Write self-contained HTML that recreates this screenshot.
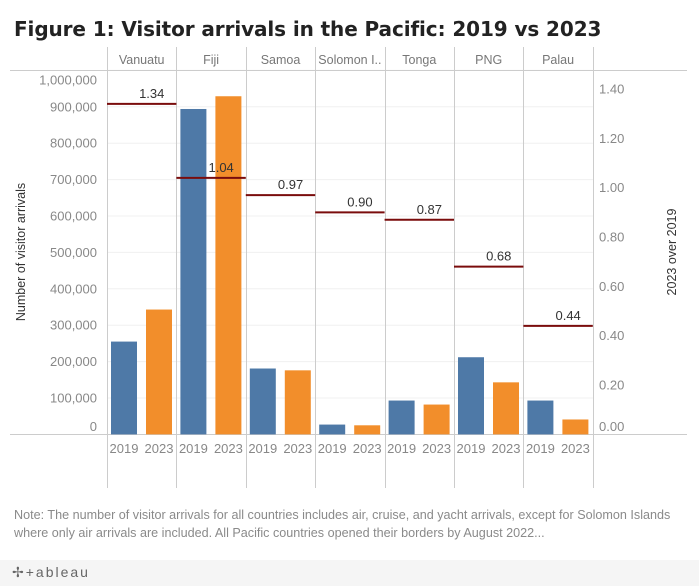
<!DOCTYPE html>
<html><head><meta charset="utf-8"><style>
body{margin:0;width:699px;height:586px;background:#fff;font-family:"Liberation Sans","DejaVu Sans",sans-serif;overflow:hidden;position:relative}
</style></head><body>
<div style="position:absolute;left:14px;top:17px;font-size:20px;font-weight:bold;color:#222;font-family:'DejaVu Sans',sans-serif;letter-spacing:-0.1px">Figure 1: Visitor arrivals in the Pacific: 2019 vs 2023</div>
<svg id="c" width="699" height="560" style="position:absolute;left:0;top:0"></svg>
<div style="position:absolute;left:14px;top:506px;width:690px;font-size:12.6px;line-height:18px;color:#8a8a8a;font-family:'Liberation Sans',sans-serif">Note: The number of visitor arrivals for all countries includes air, cruise, and yacht arrivals, except for Solomon Islands where only air arrivals are included. All Pacific countries opened their borders by August 2022...</div>
<div style="position:absolute;left:0;top:560px;width:699px;height:26px;background:#f5f5f5">
<span style="position:absolute;left:12px;top:4px;font-size:14px;color:#666;letter-spacing:2px">✢+ableau</span></div>
<script>
const countries=["Vanuatu","Fiji","Samoa","Solomon I..","Tonga","PNG","Palau"];
const v2019=[255000,894000,181000,27000,93000,212000,93000];
const v2023=[343000,929000,176000,25000,82000,143000,41000];
const ratio=[1.34,1.04,0.97,0.90,0.87,0.68,0.44];
const leftTicks=[0,100000,200000,300000,400000,500000,600000,700000,800000,900000,1000000];
const rightTicks=[0,0.2,0.4,0.6,0.8,1.0,1.2,1.4];
const NS="http://www.w3.org/2000/svg",svg=document.getElementById('c');
function el(t,a,txt){const e=document.createElementNS(NS,t);for(const k in a)e.setAttribute(k,a[k]);if(txt!==undefined)e.textContent=txt;svg.appendChild(e);return e;}
const x0=107,pw=69.4,base=434.4;
const yL=v=>base-v*0.000364;
const yR=v=>base-v*246.7;
const fnt="Liberation Sans, sans-serif";
leftTicks.forEach(t=>{if(t>0){const g=el('line',{x1:x0,x2:x0+7*pw,y1:yL(t),y2:yL(t),stroke:'#f0f0f0'});}});
leftTicks.forEach(t=>{let y=yL(t);if(y>base-8)y=base-8;if(y<80)y=80;const e=el('text',{x:97,y:y+4.5,'text-anchor':'end','font-size':13,fill:'#888','font-family':fnt},t.toLocaleString('en-US'));});
rightTicks.forEach(t=>{const y=t==0?yL(0)-8:yR(t);const e=el('text',{x:599,y:y+4.5,'font-size':13,fill:'#888','font-family':fnt},t.toFixed(2));});
let a=el('text',{x:0,y:0,transform:'translate(25,252) rotate(-90)','text-anchor':'middle','font-size':12.5,fill:'#333','font-family':fnt},'Number of visitor arrivals');

a=el('text',{x:0,y:0,transform:'translate(676,252) rotate(-90)','text-anchor':'middle','font-size':12.5,fill:'#333','font-family':fnt},'2023 over 2019');

el('line',{x1:10,x2:687,y1:70.5,y2:70.5,stroke:'#ccc'});
el('line',{x1:10,x2:687,y1:434.5,y2:434.5,stroke:'#ccc'});
for(let i=0;i<=7;i++){const x=Math.round(x0+i*pw)+0.5;el('line',{x1:x,x2:x,y1:47,y2:488,stroke:'#ccc'});}
countries.forEach((c,i)=>{
 const px=x0+i*pw;
 const h=el('text',{x:px+pw/2,y:64,'text-anchor':'middle','font-size':12.5,fill:'#777','font-family':fnt},c);
 
 [[v2019[i],'#4e79a7',4,'2019'],[v2023[i],'#f28e2b',39,'2023']].forEach(([v,col,off,yr])=>{
  const b=el('rect',{x:px+off,y:yL(v),width:26,height:base-yL(v),fill:col});
  
  const l=el('text',{x:px+off+13,y:453,'text-anchor':'middle','font-size':13,fill:'#888','font-family':fnt},yr);
  
 });
 const y=yR(ratio[i]);
 const r=el('line',{x1:px,x2:px+pw,y1:y,y2:y,stroke:'#7a0c0c','stroke-width':2});
 
 const t=el('text',{x:px+pw-12,y:y-6,'text-anchor':'end','font-size':13,fill:'#333','font-family':fnt},ratio[i].toFixed(2));
 
});
</script>
</body></html>
